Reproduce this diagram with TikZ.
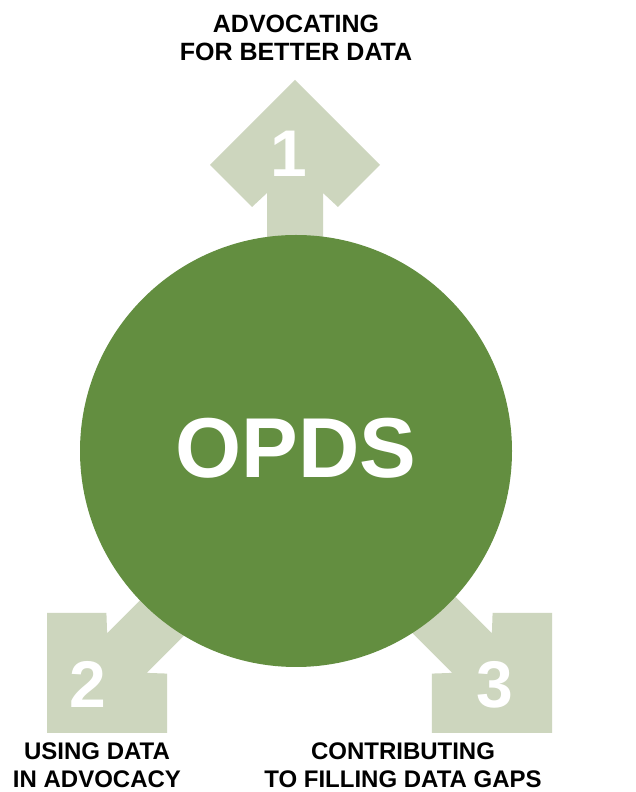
\documentclass[tikz,border=0pt]{standalone}
\usepackage{fontspec}
\setmainfont{Liberation Sans}
\definecolor{circgreen}{RGB}{99,142,64}
\definecolor{sage}{RGB}{205,214,190}
\tikzset{
  lbl/.style={font=\bfseries\fontsize{25}{27}\selectfont, text=black, inner sep=0pt, anchor=base},
  lblb/.style={font=\bfseries\fontsize{24}{26}\selectfont, text=black, inner sep=0pt, anchor=base},
  digit/.style={font=\bfseries\fontsize{66}{70}\selectfont, text=white, inner sep=0pt, anchor=base},
  blockarrow/.pic={
    \fill[sage] (0,0) -- (85,-85) -- (43,-127) -- (28,-113) -- (28,-260)
      -- (-28,-260) -- (-28,-113) -- (-43,-127) -- (-85,-85) -- cycle;
  }
}
\begin{document}
\begin{tikzpicture}[x=1pt,y=1pt]
\fill[white] (0,0) rectangle (635,792);
\useasboundingbox (0,0) rectangle (635,792);
% arrows
\pic at (295,712) {blockarrow};
\pic[rotate=135] at (47,59) {blockarrow};
\pic[rotate=-135] at (552,59) {blockarrow};
% circle
\node[circle, fill=circgreen, minimum size=432pt, inner sep=0pt] (opds) at (296,341) {};
\node[font=\bfseries\fontsize{85}{90}\selectfont, text=white, inner sep=0pt, anchor=base] (opdstext) at (296,314) {OPDS};
% digits
\node[digit] (d1) at (289,615) {1};
\node[digit] (d2) at (88,84) {2};
\node[digit] (d3) at (495,84) {3};
% labels
\node[lbl] (t1a) at (296,759) {ADVOCATING};
\node[lbl] (t1b) at (296,731) {FOR BETTER DATA};
\node[lblb] (t2a) at (97,32) {USING DATA};
\node[lblb] (t2b) at (97,5) {IN ADVOCACY};
\node[lblb] (t3a) at (403,32) {CONTRIBUTING};
\node[lblb] (t3b) at (403,5) {TO FILLING DATA GAPS};
\end{tikzpicture}
\end{document}
